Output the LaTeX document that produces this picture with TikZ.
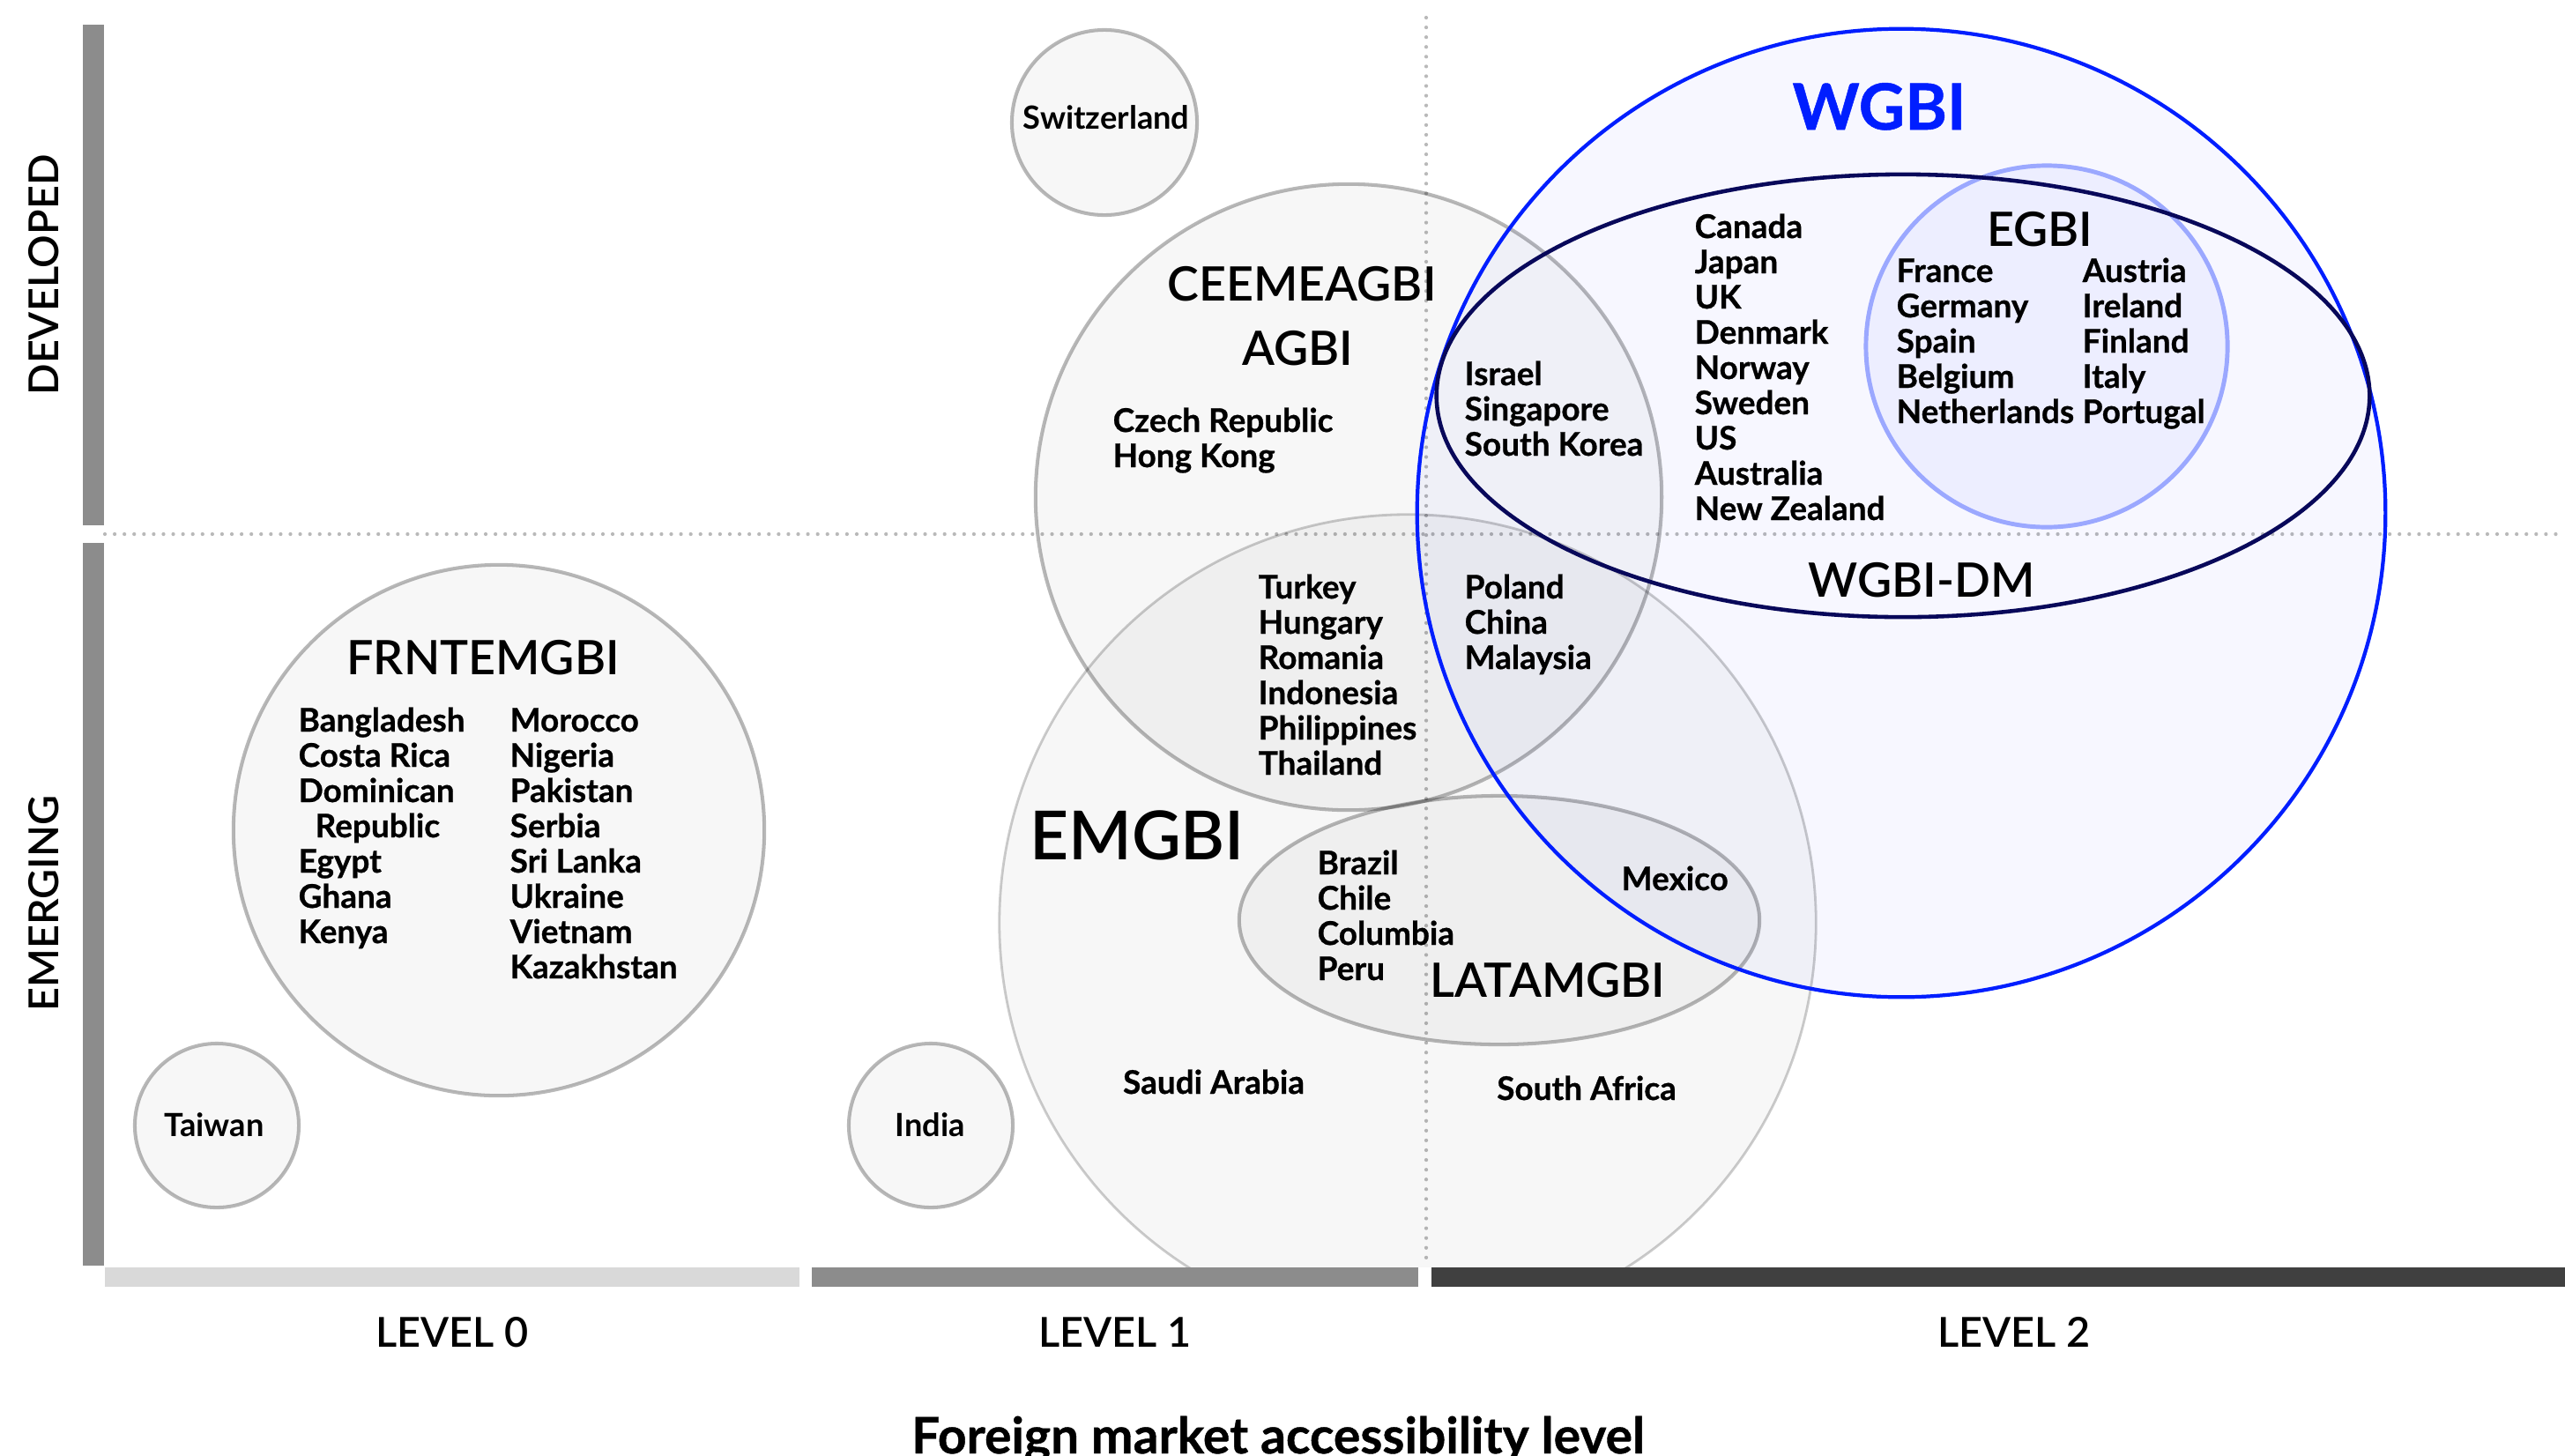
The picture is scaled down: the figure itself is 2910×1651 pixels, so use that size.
\documentclass[tikz,border=0pt]{standalone}
\usepackage{fontspec}
\setmainfont{Lato}
\newfontfamily\fsemi{Lato Semibold}
\newfontfamily\fbold{Lato Bold}
\newfontfamily\fheavy{Lato Bold}[FakeBold=0.7]
\usetikzlibrary{shapes.geometric}

\definecolor{barmid}{RGB}{140,140,140}
\definecolor{barlight}{RGB}{217,217,217}
\definecolor{bardark}{RGB}{64,64,64}
\definecolor{dotgray}{RGB}{185,185,185}
\definecolor{wblue}{RGB}{0,30,255}
\definecolor{egline}{RGB}{155,168,255}
\definecolor{egfill}{RGB}{120,135,255}
\definecolor{dmnavy}{RGB}{8,8,90}

\tikzset{
  venn/.style={draw=black, draw opacity=0.28, fill=black, fill opacity=0.03,
    line width=1.15pt, inner sep=0pt, outer sep=0pt},
  dotline/.style={draw=dotgray, line width=1.2pt, line cap=round,
    dash pattern=on 0pt off 3.15pt},
  cty/.style={font=\fheavy\fontsize{10.5}{12}\selectfont, inner sep=0pt, anchor=base west},
  ctyc/.style={cty, anchor=base},
  small/.style={font=\fbold\fontsize{10.3}{12}\selectfont, inner sep=0pt, anchor=base},
  ttl/.style={font=\fsemi\fontsize{15.3}{17}\selectfont, inner sep=0pt, anchor=base},
  lvl/.style={font=\fsemi\fontsize{13.3}{15}\selectfont, inner sep=0pt, anchor=base},
}

\begin{document}
\begin{tikzpicture}[x=0.01cm,y=-0.01cm]
\useasboundingbox (0,0) rectangle (2910,1651);
\fill[white] (0,0) rectangle (2910,1651);

% axis bars
\fill[barmid] (94,28) rectangle (118,596);
\fill[barmid] (94,616) rectangle (118,1436);
\fill[barlight] (119,1438) rectangle (907,1460);
\fill[barmid] (921,1438) rectangle (1609,1460);
\fill[bardark] (1624,1438) rectangle (2910,1460);

% quadrant separators
\draw[dotline] (119,606) -- (2910,606);
\draw[dotline] (1618,20) -- (1618,1436);

% index circles
\node[venn, circle, minimum size=2.10cm] (swiss) at (1253,139) {};
\node[venn, circle, minimum size=7.10cm] (ceemea) at (1530,564) {};
\begin{scope}
  \clip (0,0) rectangle (2910,1437);
  \node[venn, circle, minimum size=9.26cm, draw opacity=0.2, line width=0.8pt] (emgbi) at (1597,1047) {};
\end{scope}
\node[venn, ellipse, minimum width=5.90cm, minimum height=2.82cm] (latam) at (1701,1044) {};
\node[venn, circle, minimum size=6.02cm] (frnt) at (566,942) {};
\node[venn, circle, minimum size=1.86cm] (taiwan) at (246,1277) {};
\node[venn, circle, minimum size=1.86cm] (india) at (1056,1277) {};

\node[circle, minimum size=10.98cm, inner sep=0pt, draw=wblue, line width=1.2pt,
      fill=wblue, fill opacity=0.03] (wgbi) at (2157,582) {};
\node[circle, minimum size=4.10cm, inner sep=0pt, draw=egline, line width=1.4pt,
      fill=egfill, fill opacity=0.08] (egbi) at (2322,393) {};
\node[ellipse, minimum width=10.58cm, minimum height=5.02cm, inner sep=0pt,
      draw=dmnavy, line width=1.3pt] (wgbidm) at (2159,449) {};

% axis labels
\node[lvl, rotate=90] (developed) at (66,312) {DEVELOPED};
\node[lvl, rotate=90] (emerging) at (66,1025) {EMERGING};
\node[lvl] (lvl0) at (513,1528) {LEVEL 0};
\node[lvl] (lvl1) at (1265,1528) {LEVEL 1};
\node[lvl] (lvl2) at (2285,1528) {LEVEL 2};
\node[font=\fheavy\fontsize{16.2}{18}\selectfont, inner sep=0pt, anchor=base] (xtitle) at (1450,1649)
  {Foreign market accessibility level};

% index names
\node[ttl] (tceemea) at (1477,341) {CEEMEAGBI};
\node[ttl] (tagbi) at (1472,414) {AGBI};
\node[ttl] (tfrnt) at (548,765) {FRNTEMGBI};
\node[ttl, font=\fsemi\fontsize{21.8}{24}\selectfont] (temgbi) at (1290,975) {EMGBI};
\node[ttl] (tlatam) at (1756,1131) {LATAMGBI};
\node[ttl] (tegbi) at (2314,279) {EGBI};
\node[ttl] (tdm) at (2180,677) {WGBI-DM};
\node[ttl, font=\fheavy\fontsize{20.6}{23}\selectfont, text=wblue] (twgbi) at (2132,147) {WGBI};

% single countries
\node[small] (lswiss) at (1255,146) {Switzerland};
\node[small] (ltaiwan) at (243,1289) {Taiwan};
\node[small] (lindia) at (1055,1289) {India};
\node[ctyc] (lsaudi) at (1377,1241) {Saudi Arabia};
\node[ctyc] (lsafrica) at (1800,1248) {South Africa};
\node[cty] (lmexico) at (1839,1010) {Mexico};

% country lists
\foreach \t [count=\i from 0] in {Bangladesh,Costa Rica,Dominican,{\hspace*{0.19cm}Republic},Egypt,Ghana,Kenya}
  \node[cty] (fa\i) at (338,{830+40*\i}) {\t};
\foreach \t [count=\i from 0] in {Morocco,Nigeria,Pakistan,Serbia,Sri Lanka,Ukraine,Vietnam,Kazakhstan}
  \node[cty] (fb\i) at (578,{830+40*\i}) {\t};
\foreach \t [count=\i from 0] in {Czech Republic,Hong Kong}
  \node[cty] (ce\i) at (1262,{490+40*\i}) {\t};
\foreach \t [count=\i from 0] in {Israel,Singapore,South Korea}
  \node[cty] (is\i) at (1661,{437+40*\i}) {\t};
\foreach \t [count=\i from 0] in {Canada,Japan,UK,Denmark,Norway,Sweden,US,Australia,New Zealand}
  \node[cty] (dm\i) at (1922,{270+40*\i}) {\t};
\foreach \t [count=\i from 0] in {France,Germany,Spain,Belgium,Netherlands}
  \node[cty] (ea\i) at (2151,{320+40*\i}) {\t};
\foreach \t [count=\i from 0] in {Austria,Ireland,Finland,Italy,Portugal}
  \node[cty] (eb\i) at (2362,{320+40*\i}) {\t};
\foreach \t [count=\i from 0] in {Turkey,Hungary,Romania,Indonesia,Philippines,Thailand}
  \node[cty] (tu\i) at (1427,{679+40*\i}) {\t};
\foreach \t [count=\i from 0] in {Poland,China,Malaysia}
  \node[cty] (po\i) at (1661,{679+40*\i}) {\t};
\foreach \t [count=\i from 0] in {Brazil,Chile,Columbia,Peru}
  \node[cty] (br\i) at (1494,{992+40*\i}) {\t};
\end{tikzpicture}
\end{document}
